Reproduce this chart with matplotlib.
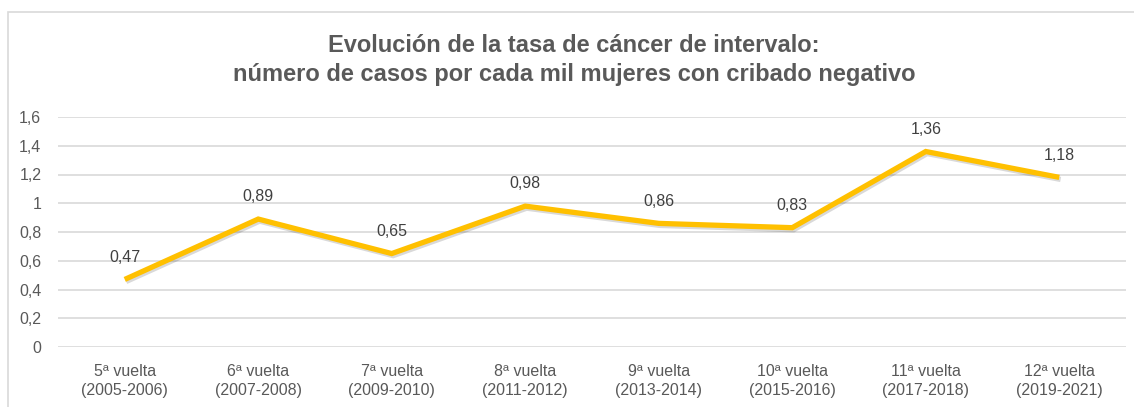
import matplotlib
matplotlib.use("Agg")
import matplotlib.pyplot as plt
from matplotlib import font_manager
import matplotlib.patheffects as pe

categories = ["5ª vuelta\n(2005-2006)", "6ª vuelta\n(2007-2008)", "7ª vuelta\n(2009-2010)",
              "8ª vuelta\n(2011-2012)", "9ª vuelta\n(2013-2014)", "10ª vuelta\n(2015-2016)",
              "11ª vuelta\n(2017-2018)", "12ª vuelta\n(2019-2021)"]
values = [0.47, 0.89, 0.65, 0.98, 0.86, 0.83, 1.36, 1.18]
y_ticks = [0, 0.2, 0.4, 0.6, 0.8, 1.0, 1.2, 1.4, 1.6]
y_tick_labels = ["0", "0,2", "0,4", "0,6", "0,8", "1", "1,2", "1,4", "1,6"]
title = "Evolución de la tasa de cáncer de intervalo:\nnúmero de casos por cada mil mujeres con cribado negativo"

names = {f.name for f in font_manager.fontManager.ttflist}
fam = "Liberation Sans Narrow" if "Liberation Sans Narrow" in names else "Liberation Sans"
plt.rcParams['font.family'] = [fam, "DejaVu Sans"]

gray = "#595959"
fig = plt.figure(figsize=(11.34, 4.07), dpi=100)
# outer chart border
fig.patches.append(plt.Rectangle((8/1134, -0.1), 1.2, (407-12)/407 + 0.1, transform=fig.transFigure,
                                 fill=False, edgecolor="#d9d9d9", linewidth=1.2))
ax = fig.add_axes([58/1134, 60/407, 1068/1134, 230/407])
x = list(range(len(values)))
ax.plot(x, values, color="#FFC000", linewidth=3.8, solid_joinstyle="miter", solid_capstyle="butt",
        path_effects=[pe.SimpleLineShadow(offset=(1, -1.5), alpha=0.15), pe.Normal()], zorder=3)
for xi, v in zip(x, values):
    ax.annotate(f"{v:.2f}".replace(".", ","), (xi, v), xytext=(0, 16), textcoords="offset points",
                ha="center", va="center", fontsize=11.5, color="#404040")
ax.set_xlim(-0.5, len(values) - 0.5)
ax.set_ylim(0, 1.6)
ax.set_yticks(y_ticks)
ax.set_yticklabels(y_tick_labels)
ax.set_xticks(x)
ax.set_xticklabels(categories, linespacing=1.35)
ax.grid(axis="y", color="#d9d9d9", linewidth=1.2)
ax.set_axisbelow(True)
for s in ax.spines.values():
    s.set_visible(False)
ax.tick_params(axis="both", length=0, labelsize=11.5, labelcolor=gray)
ax.tick_params(axis="y", pad=12)
ax.tick_params(axis="x", pad=12)
for lbl in ax.get_yticklabels():
    lbl.set_horizontalalignment("right")
fig.text(574/1134, 1 - 60/407, title, ha="center", va="center", fontsize=17, fontweight="bold",
         color=gray, linespacing=1.35)
fig.savefig("out.png", dpi=100)
